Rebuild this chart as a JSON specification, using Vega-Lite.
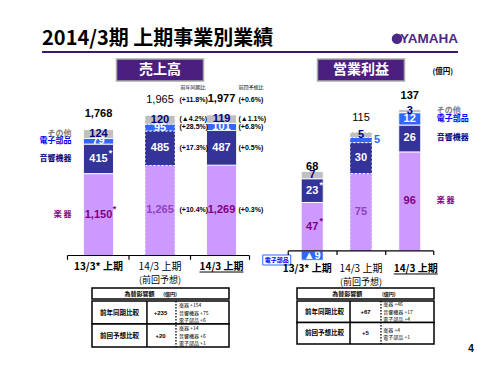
{
  "$schema": "https://vega.github.io/schema/vega-lite/v6.json",
  "padding": {"left": 37, "top": 28, "right": 0, "bottom": 0},
  "background": "white",
  "spacing": 5,
  "config": {"view": {"stroke": null}, "text": {"font": "Liberation Sans, Noto Sans CJK JP"}},
  "datasets": {
    "sales": [
      {"period": "13/3", "type": "actual", "seg": "楽器", "value": 1150, "note": true},
      {"period": "13/3", "type": "actual", "seg": "音響機器", "value": 415, "note": true},
      {"period": "13/3", "type": "actual", "seg": "電子部品", "value": 79},
      {"period": "13/3", "type": "actual", "seg": "その他", "value": 124},
      {"period": "14/3予想", "type": "forecast", "seg": "楽器", "value": 1265},
      {"period": "14/3予想", "type": "forecast", "seg": "音響機器", "value": 485},
      {"period": "14/3予想", "type": "forecast", "seg": "電子部品", "value": 95},
      {"period": "14/3予想", "type": "forecast", "seg": "その他", "value": 120},
      {"period": "14/3", "type": "actual", "seg": "楽器", "value": 1269, "yoy": "(+10.4%)", "plan": "(+0.3%)"},
      {"period": "14/3", "type": "actual", "seg": "音響機器", "value": 487, "yoy": "(+17.3%)", "plan": "(+0.5%)"},
      {"period": "14/3", "type": "actual", "seg": "電子部品", "value": 101, "yoy": "(+28.5%)", "plan": "(+6.8%)"},
      {"period": "14/3", "type": "actual", "seg": "その他", "value": 119, "yoy": "(▲4.2%)", "plan": "(▲1.1%)"}
    ],
    "salesTotals": [
      {"period": "13/3", "total": 1768, "line1": "13/3* 上期"},
      {"period": "14/3予想", "total": 1965, "line1": "14/3 上期", "line2": "(前回予想)"},
      {"period": "14/3", "total": 1977, "line1": "14/3 上期", "yoy": "(+11.8%)", "plan": "(+0.6%)", "yoyHead": "前年同期比", "planHead": "前回予想比"}
    ],
    "income": [
      {"period": "13/3", "type": "actual", "seg": "楽器", "value": 47, "note": true},
      {"period": "13/3", "type": "actual", "seg": "音響機器", "value": 23, "note": true},
      {"period": "13/3", "type": "actual", "seg": "電子部品", "value": -9},
      {"period": "13/3", "type": "actual", "seg": "その他", "value": 7},
      {"period": "14/3予想", "type": "forecast", "seg": "楽器", "value": 75},
      {"period": "14/3予想", "type": "forecast", "seg": "音響機器", "value": 30},
      {"period": "14/3予想", "type": "forecast", "seg": "電子部品", "value": 5},
      {"period": "14/3予想", "type": "forecast", "seg": "その他", "value": 5},
      {"period": "14/3", "type": "actual", "seg": "楽器", "value": 96},
      {"period": "14/3", "type": "actual", "seg": "音響機器", "value": 26},
      {"period": "14/3", "type": "actual", "seg": "電子部品", "value": 12},
      {"period": "14/3", "type": "actual", "seg": "その他", "value": 3}
    ],
    "incomeTotals": [
      {"period": "13/3", "total": 68, "line1": "13/3* 上期"},
      {"period": "14/3予想", "total": 115, "line1": "14/3 上期", "line2": "(前回予想)"},
      {"period": "14/3", "total": 137, "line1": "14/3 上期"}
    ],
    "fx": [
      {"table": "sales", "item": "前年同期比較", "total": "+235", "detail": "楽器 +154\n音響機器 +75\n電子部品 +6"},
      {"table": "sales", "item": "前回予想比較", "total": "+20", "detail": "楽器 +14\n音響機器 +6\n電子部品 +1"},
      {"table": "income", "item": "前年同期比較", "total": "+67", "detail": "楽器 +46\n音響機器 +17\n電子部品 +4"},
      {"table": "income", "item": "前回予想比較", "total": "+5", "detail": "楽器 +4\n電子部品 +1"}
    ]
  },
  "vconcat": [
    {
      "width": 421, "height": 24,
      "data": {"values": [{"title": "2014/3期 上期事業別業績", "brand": "YAMAHA"}]},
      "layer": [
        {"mark": {"type": "rule", "color": "#3B1877", "strokeWidth": 2},
         "encoding": {"x": {"datum": 0.012, "type": "quantitative", "scale": {"domain": [0, 1], "nice": false, "zero": false}, "axis": null}, "x2": {"datum": 1},
                      "y": {"datum": 0, "type": "quantitative", "scale": {"domain": [0, 1], "nice": false, "zero": false}, "axis": null}}},
        {"mark": {"type": "text", "align": "left", "baseline": "middle", "font": "Noto Sans CJK JP", "fontSize": 20, "fontWeight": "bold", "color": "black"},
         "encoding": {"x": {"datum": 0.012, "type": "quantitative"}, "y": {"datum": 0.55, "type": "quantitative"}, "text": {"field": "title"}}},
        {"mark": {"type": "point", "shape": "circle", "filled": true, "size": 110, "color": "#4B2A86", "opacity": 1, "xOffset": -61},
         "encoding": {"x": {"datum": 1, "type": "quantitative"}, "y": {"datum": 0.55, "type": "quantitative"}}},
        {"mark": {"type": "text", "align": "right", "baseline": "middle", "font": "Liberation Sans", "fontSize": 13.5, "fontWeight": "bold", "color": "#4B2A86"},
         "encoding": {"x": {"datum": 1, "type": "quantitative"}, "y": {"datum": 0.55, "type": "quantitative"}, "text": {"field": "brand"}}}
      ]
    },
    {
      "spacing": 0,
      "vconcat": [
        {
          "bounds": "flush",
          "spacing": 1,
          "hconcat": [
            {
              "width": 225, "height": 225,
              "layer": [
                {"data": {"values": [{"title": "売上高"}]},
                 "layer": [
                   {"mark": {"type": "bar", "width": 87, "fill": "#4A1F7F", "stroke": "#AAAAAA", "strokeWidth": 1.5},
                    "encoding": {"x": {"datum": "14/3予想", "type": "nominal", "scale": {"type": "point", "domain": ["13/3", "14/3予想", "14/3"], "padding": 0.829, "align": 0.603}, "axis": null},
                                 "y": {"datum": 2451, "type": "quantitative", "scale": {"domain": [-400, 2760], "nice": false, "zero": false}, "axis": null}, "y2": {"datum": 2760}}},
                   {"mark": {"type": "text", "color": "white", "fontSize": 14, "fontWeight": "bold", "font": "Noto Sans CJK JP", "baseline": "middle"},
                    "encoding": {"x": {"datum": "14/3予想", "type": "nominal"}, "y": {"datum": 2605, "type": "quantitative"}, "text": {"field": "title"}}}
                 ]},
                {"data": {"name": "sales"},
                 "transform": [
                   {"calculate": "indexof(['楽器','音響機器','電子部品','その他'], datum.seg)", "as": "rank"},
                   {"stack": "value", "groupby": ["period"], "sort": [{"field": "rank", "order": "ascending"}], "as": ["y0", "y1"]},
                   {"calculate": "(datum.y0 + datum.y1) / 2", "as": "mid"},
                   {"calculate": "datum.value < 0 ? '▲' + format(-datum.value, ',') : format(datum.value, ',')", "as": "label"},
                   {"calculate": "datum.seg === '楽器' ? '楽 器' : datum.seg", "as": "name"}
                 ],
                 "layer": [
                   {"mark": {"type": "bar", "width": 30, "stroke": "white", "strokeWidth": 1},
                    "encoding": {"x": {"field": "period", "type": "nominal", "axis": null},
                                 "y": {"field": "y1", "type": "quantitative", "axis": null}, "y2": {"field": "y0"},
                                 "color": {"field": "seg", "type": "nominal", "scale": {"domain": ["楽器", "音響機器", "電子部品", "その他"], "range": ["#CC99FF", "#333399", "#3366FF", "#C0C0C0"]}, "legend": null},
                                 "strokeDash": {"field": "type", "type": "nominal", "scale": {"domain": ["actual", "forecast"], "range": [[1, 0], [2, 2]]}, "legend": null}}},
                   {"mark": {"type": "text", "fontSize": 11, "fontWeight": "bold", "baseline": "middle", "font": "Liberation Sans"},
                    "encoding": {"x": {"field": "period", "type": "nominal"}, "y": {"field": "mid", "type": "quantitative"}, "text": {"field": "label"},
                                 "color": {"condition": [{"test": "datum.seg === '楽器' && datum.type === 'forecast'", "value": "#9040C0"}, {"test": "datum.seg === '楽器'", "value": "#800080"}, {"test": "datum.seg === 'その他'", "value": "#000080"}], "value": "white"}}},
                   {"transform": [{"filter": "datum.note && datum.seg === '楽器'"}],
                    "mark": {"type": "text", "fontSize": 9, "fontWeight": "bold", "dx": 16, "dy": -6, "color": "#800080"},
                    "encoding": {"x": {"field": "period", "type": "nominal"}, "y": {"field": "mid", "type": "quantitative"}, "text": {"value": "*"}}},
                   {"transform": [{"filter": "datum.note && datum.seg === '音響機器'"}],
                    "mark": {"type": "text", "fontSize": 9, "fontWeight": "bold", "dx": 12, "dy": -6, "color": "white"},
                    "encoding": {"x": {"field": "period", "type": "nominal"}, "y": {"field": "mid", "type": "quantitative"}, "text": {"value": "*"}}},
                   {"transform": [{"filter": "datum.period === '13/3'"}],
                    "mark": {"type": "text", "fontSize": 8, "fontWeight": "bold", "align": "right", "baseline": "middle", "dx": -27, "font": "Noto Sans CJK JP"},
                    "encoding": {"x": {"field": "period", "type": "nominal"}, "y": {"field": "mid", "type": "quantitative"}, "text": {"field": "name"},
                                 "color": {"condition": [{"test": "datum.seg === 'その他'", "value": "#808080"}, {"test": "datum.seg === '電子部品'", "value": "#0000FF"}, {"test": "datum.seg === '音響機器'", "value": "#000080"}], "value": "#800080"}}},
                   {"transform": [{"filter": "datum.period === '14/3'"}],
                    "mark": {"type": "text", "fontSize": 7, "fontWeight": "bold", "align": "left", "baseline": "middle", "dx": -42, "color": "black", "font": "Liberation Sans Narrow, Liberation Sans, Noto Sans CJK JP"},
                    "encoding": {"x": {"field": "period", "type": "nominal"}, "y": {"field": "mid", "type": "quantitative"}, "text": {"field": "yoy"}}},
                   {"transform": [{"filter": "datum.period === '14/3'"}],
                    "mark": {"type": "text", "fontSize": 7, "fontWeight": "bold", "align": "left", "baseline": "middle", "dx": 17, "color": "black", "font": "Liberation Sans Narrow, Liberation Sans, Noto Sans CJK JP"},
                    "encoding": {"x": {"field": "period", "type": "nominal"}, "y": {"field": "mid", "type": "quantitative"}, "text": {"field": "plan"}}}
                 ]},
                {"data": {"name": "salesTotals"},
                 "layer": [
                   {"transform": [{"filter": "datum.period !== '14/3予想'"}],
                    "mark": {"type": "text", "fontSize": 11, "fontWeight": "bold", "dy": -16, "color": "black"},
                    "encoding": {"x": {"field": "period", "type": "nominal"}, "y": {"field": "total", "type": "quantitative"}, "text": {"field": "total", "type": "quantitative", "format": ","}}},
                   {"transform": [{"filter": "datum.period === '14/3予想'"}],
                    "mark": {"type": "text", "fontSize": 11, "dy": -16, "color": "black"},
                    "encoding": {"x": {"field": "period", "type": "nominal"}, "y": {"field": "total", "type": "quantitative"}, "text": {"field": "total", "type": "quantitative", "format": ","}}},
                   {"transform": [{"filter": "datum.period === '14/3'"}],
                    "mark": {"type": "text", "fontSize": 7, "fontWeight": "bold", "align": "left", "dx": -42, "dy": -15, "color": "black", "font": "Liberation Sans Narrow, Liberation Sans, Noto Sans CJK JP"},
                    "encoding": {"x": {"field": "period", "type": "nominal"}, "y": {"field": "total", "type": "quantitative"}, "text": {"field": "yoy"}}},
                   {"transform": [{"filter": "datum.period === '14/3'"}],
                    "mark": {"type": "text", "fontSize": 7, "fontWeight": "bold", "align": "left", "dx": 17, "dy": -15, "color": "black", "font": "Liberation Sans Narrow, Liberation Sans, Noto Sans CJK JP"},
                    "encoding": {"x": {"field": "period", "type": "nominal"}, "y": {"field": "total", "type": "quantitative"}, "text": {"field": "plan"}}},
                   {"transform": [{"filter": "datum.period === '14/3'"}],
                    "mark": {"type": "text", "fontSize": 5, "align": "left", "dx": -41, "dy": -28, "color": "black", "font": "Noto Sans CJK JP"},
                    "encoding": {"x": {"field": "period", "type": "nominal"}, "y": {"field": "total", "type": "quantitative"}, "text": {"field": "yoyHead"}}},
                   {"transform": [{"filter": "datum.period === '14/3'"}],
                    "mark": {"type": "text", "fontSize": 5, "align": "left", "dx": 17, "dy": -28, "color": "black", "font": "Noto Sans CJK JP"},
                    "encoding": {"x": {"field": "period", "type": "nominal"}, "y": {"field": "total", "type": "quantitative"}, "text": {"field": "planHead"}}},
                   {"transform": [{"filter": "datum.period !== '14/3予想'"}],
                    "mark": {"type": "text", "fontSize": 10, "fontWeight": "bold", "dy": 11.5, "color": "black", "font": "Noto Sans CJK JP"},
                    "encoding": {"x": {"field": "period", "type": "nominal"}, "y": {"datum": 0, "type": "quantitative"}, "text": {"field": "line1"}}},
                   {"transform": [{"filter": "datum.period === '14/3予想'"}],
                    "mark": {"type": "text", "fontSize": 10, "dy": 11.5, "color": "black", "font": "Noto Sans CJK JP"},
                    "encoding": {"x": {"field": "period", "type": "nominal"}, "y": {"datum": 0, "type": "quantitative"}, "text": {"field": "line1"}}},
                   {"transform": [{"filter": "datum.period === '14/3予想'"}],
                    "mark": {"type": "text", "fontSize": 9, "dy": 24.5, "color": "black", "font": "Noto Sans CJK JP"},
                    "encoding": {"x": {"field": "period", "type": "nominal"}, "y": {"datum": 0, "type": "quantitative"}, "text": {"field": "line2"}}},
                   {"transform": [{"filter": "datum.period === '14/3'"}],
                    "mark": {"type": "rule", "color": "black", "strokeWidth": 1, "xOffset": -22, "x2Offset": 22, "yOffset": 16.5},
                    "encoding": {"x": {"field": "period", "type": "nominal"}, "x2": {"field": "period"}, "y": {"datum": 0, "type": "quantitative"}}},
                   {"transform": [{"filter": "datum.period === '14/3'"}],
                    "mark": {"type": "rule", "color": "black", "strokeWidth": 1.2, "xOffset": -31, "x2Offset": 28},
                    "encoding": {"x": {"datum": "13/3", "type": "nominal"}, "x2": {"datum": "14/3"}, "y": {"datum": 0, "type": "quantitative"}}},
                   {"mark": {"type": "rule", "color": "black", "strokeWidth": 1.2, "xOffset": -31},
                    "encoding": {"x": {"field": "period", "type": "nominal"}, "y": {"datum": 0, "type": "quantitative"}, "y2": {"datum": -60}}},
                   {"transform": [{"filter": "datum.period === '14/3'"}],
                    "mark": {"type": "rule", "color": "black", "strokeWidth": 1.2, "xOffset": 28},
                    "encoding": {"x": {"field": "period", "type": "nominal"}, "y": {"datum": 0, "type": "quantitative"}, "y2": {"datum": -60}}}
                 ]}
              ]
            },
            {
              "width": 195, "height": 225,
              "layer": [
                {"data": {"values": [{"title": "営業利益", "unit": "(億円)", "tag": "電子部品"}]},
                 "layer": [
                   {"mark": {"type": "bar", "width": 87, "fill": "#4A1F7F", "stroke": "#AAAAAA", "strokeWidth": 1.5},
                    "encoding": {"x": {"datum": "14/3予想", "type": "nominal", "scale": {"type": "point", "domain": ["13/3", "14/3予想", "14/3"], "padding": 1.097, "align": 0.505}, "axis": null},
                                 "y": {"datum": 164.7, "type": "quantitative", "scale": {"domain": [-32, 186], "nice": false, "zero": false}, "axis": null}, "y2": {"datum": 186}}},
                   {"mark": {"type": "text", "color": "white", "fontSize": 14, "fontWeight": "bold", "font": "Noto Sans CJK JP", "baseline": "middle"},
                    "encoding": {"x": {"datum": "14/3予想", "type": "nominal"}, "y": {"datum": 175.3, "type": "quantitative"}, "text": {"field": "title"}}},
                   {"mark": {"type": "text", "color": "black", "fontSize": 7.5, "fontWeight": "bold", "font": "Noto Sans CJK JP", "baseline": "middle", "dx": 33},
                    "encoding": {"x": {"datum": "14/3", "type": "nominal"}, "y": {"datum": 173.4, "type": "quantitative"}, "text": {"field": "unit"}}},
                   {"mark": {"type": "bar", "width": 28, "fill": "white", "stroke": "#3366FF", "strokeWidth": 1, "xOffset": -35.5},
                    "encoding": {"x": {"datum": "13/3", "type": "nominal"}, "y": {"datum": -3.9, "type": "quantitative"}, "y2": {"datum": -13.6}}},
                   {"mark": {"type": "text", "color": "#0000FF", "fontSize": 6, "fontWeight": "bold", "font": "Noto Sans CJK JP", "baseline": "middle", "dx": -35.5},
                    "encoding": {"x": {"datum": "13/3", "type": "nominal"}, "y": {"datum": -8.8, "type": "quantitative"}, "text": {"field": "tag"}}}
                 ]},
                {"data": {"name": "income"},
                 "transform": [
                   {"calculate": "indexof(['楽器','音響機器','電子部品','その他'], datum.seg)", "as": "rank"},
                   {"stack": "value", "groupby": ["period"], "sort": [{"field": "rank", "order": "ascending"}], "as": ["y0", "y1"]},
                   {"calculate": "(datum.y0 + datum.y1) / 2", "as": "mid"},
                   {"calculate": "datum.value < 0 ? '▲' + format(-datum.value, ',') : format(datum.value, ',')", "as": "label"},
                   {"calculate": "datum.seg === '楽器' ? '楽 器' : datum.seg", "as": "name"}
                 ],
                 "layer": [
                   {"mark": {"type": "bar", "width": 22, "stroke": "white", "strokeWidth": 1},
                    "encoding": {"x": {"field": "period", "type": "nominal", "axis": null},
                                 "y": {"field": "y1", "type": "quantitative", "axis": null}, "y2": {"field": "y0"},
                                 "color": {"field": "seg", "type": "nominal", "scale": {"domain": ["楽器", "音響機器", "電子部品", "その他"], "range": ["#CC99FF", "#333399", "#3366FF", "#C0C0C0"]}, "legend": null},
                                 "strokeDash": {"field": "type", "type": "nominal", "scale": {"domain": ["actual", "forecast"], "range": [[1, 0], [2, 2]]}, "legend": null}}},
                   {"transform": [{"filter": "!(datum.type === 'forecast' && datum.seg === '電子部品')"}],
                    "mark": {"type": "text", "fontSize": 11, "fontWeight": "bold", "baseline": "middle", "font": "Liberation Sans, Noto Sans CJK JP"},
                    "encoding": {"x": {"field": "period", "type": "nominal"}, "y": {"field": "mid", "type": "quantitative"}, "text": {"field": "label"},
                                 "color": {"condition": [{"test": "datum.seg === '楽器' && datum.type === 'forecast'", "value": "#9040C0"}, {"test": "datum.seg === '楽器'", "value": "#800080"}, {"test": "datum.seg === 'その他'", "value": "#000080"}], "value": "white"}}},
                   {"transform": [{"filter": "datum.type === 'forecast' && datum.seg === '電子部品'"}],
                    "mark": {"type": "text", "fontSize": 11, "fontWeight": "bold", "baseline": "middle", "dx": 16, "color": "#3366FF"},
                    "encoding": {"x": {"field": "period", "type": "nominal"}, "y": {"field": "mid", "type": "quantitative"}, "text": {"field": "label"}}},
                   {"transform": [{"filter": "datum.note"}],
                    "mark": {"type": "text", "fontSize": 9, "fontWeight": "bold", "dx": 9, "dy": -6},
                    "encoding": {"x": {"field": "period", "type": "nominal"}, "y": {"field": "mid", "type": "quantitative"}, "text": {"value": "*"},
                                 "color": {"condition": {"test": "datum.seg === '楽器'", "value": "#800080"}, "value": "white"}}},
                   {"transform": [{"filter": "datum.period === '14/3'"}],
                    "mark": {"type": "text", "fontSize": 8, "fontWeight": "bold", "align": "left", "baseline": "middle", "dx": 27, "font": "Noto Sans CJK JP"},
                    "encoding": {"x": {"field": "period", "type": "nominal"}, "y": {"field": "mid", "type": "quantitative"}, "text": {"field": "name"},
                                 "color": {"condition": [{"test": "datum.seg === 'その他'", "value": "#808080"}, {"test": "datum.seg === '電子部品'", "value": "#0000FF"}, {"test": "datum.seg === '音響機器'", "value": "#000080"}], "value": "#800080"}}}
                 ]},
                {"data": {"name": "incomeTotals"},
                 "layer": [
                   {"transform": [{"filter": "datum.period !== '14/3予想'"}],
                    "mark": {"type": "text", "fontSize": 11, "fontWeight": "bold", "dy": -14, "color": "black"},
                    "encoding": {"x": {"field": "period", "type": "nominal"}, "y": {"field": "total", "type": "quantitative"}, "text": {"field": "total", "type": "quantitative", "format": ","}}},
                   {"transform": [{"filter": "datum.period === '14/3予想'"}],
                    "mark": {"type": "text", "fontSize": 11, "dy": -14, "color": "black"},
                    "encoding": {"x": {"field": "period", "type": "nominal"}, "y": {"field": "total", "type": "quantitative"}, "text": {"field": "total", "type": "quantitative", "format": ","}}},
                   {"transform": [{"filter": "datum.period === '13/3'"}],
                    "mark": {"type": "text", "fontSize": 10, "fontWeight": "bold", "dy": 18, "dx": -5, "color": "black", "font": "Noto Sans CJK JP"},
                    "encoding": {"x": {"field": "period", "type": "nominal"}, "y": {"datum": 0, "type": "quantitative"}, "text": {"field": "line1"}}},
                   {"transform": [{"filter": "datum.period === '14/3'"}],
                    "mark": {"type": "text", "fontSize": 10, "fontWeight": "bold", "dy": 18, "dx": 6, "color": "black", "font": "Noto Sans CJK JP"},
                    "encoding": {"x": {"field": "period", "type": "nominal"}, "y": {"datum": 0, "type": "quantitative"}, "text": {"field": "line1"}}},
                   {"transform": [{"filter": "datum.period === '14/3予想'"}],
                    "mark": {"type": "text", "fontSize": 10, "dy": 18, "color": "black", "font": "Noto Sans CJK JP"},
                    "encoding": {"x": {"field": "period", "type": "nominal"}, "y": {"datum": 0, "type": "quantitative"}, "text": {"field": "line1"}}},
                   {"transform": [{"filter": "datum.period === '14/3予想'"}],
                    "mark": {"type": "text", "fontSize": 9, "dy": 31, "color": "black", "font": "Noto Sans CJK JP"},
                    "encoding": {"x": {"field": "period", "type": "nominal"}, "y": {"datum": 0, "type": "quantitative"}, "text": {"field": "line2"}}},
                   {"transform": [{"filter": "datum.period === '14/3'"}],
                    "mark": {"type": "rule", "color": "black", "strokeWidth": 1, "xOffset": -16, "x2Offset": 28, "yOffset": 23},
                    "encoding": {"x": {"field": "period", "type": "nominal"}, "x2": {"field": "period"}, "y": {"datum": 0, "type": "quantitative"}}},
                   {"transform": [{"filter": "datum.period === '14/3'"}],
                    "mark": {"type": "rule", "color": "black", "strokeWidth": 1.2, "xOffset": -24, "x2Offset": 24},
                    "encoding": {"x": {"datum": "13/3", "type": "nominal"}, "x2": {"datum": "14/3"}, "y": {"datum": 0, "type": "quantitative"}}},
                   {"mark": {"type": "rule", "color": "black", "strokeWidth": 1.2, "xOffset": -24},
                    "encoding": {"x": {"field": "period", "type": "nominal"}, "y": {"datum": 0, "type": "quantitative"}, "y2": {"datum": -4}}},
                   {"transform": [{"filter": "datum.period === '14/3'"}],
                    "mark": {"type": "rule", "color": "black", "strokeWidth": 1.2, "xOffset": 24},
                    "encoding": {"x": {"field": "period", "type": "nominal"}, "y": {"datum": 0, "type": "quantitative"}, "y2": {"datum": -4}}}
                 ]}
              ]
            }
          ]
        },
        {
          "hconcat": [
            {"width": 225, "height": 11,
             "data": {"values": [{"title": "為替影響額", "unit": "(億円)"}]},
             "layer": [
               {"mark": {"type": "rect", "fill": "white", "stroke": "black", "strokeWidth": 1.5},
                "encoding": {"x": {"datum": 0, "type": "quantitative", "scale": {"domain": [-0.4015, 1.2409], "nice": false, "zero": false}, "axis": null}, "x2": {"datum": 1},
                             "y": {"datum": 0, "type": "quantitative", "scale": {"domain": [0, 1], "nice": false, "zero": false}, "axis": null}, "y2": {"datum": 1}}},
               {"mark": {"type": "text", "font": "Noto Sans CJK JP", "fontSize": 6, "fontWeight": "bold", "baseline": "middle", "color": "black"},
                "encoding": {"x": {"datum": 0.347, "type": "quantitative"}, "y": {"datum": 0.5, "type": "quantitative"}, "text": {"field": "title"}}},
               {"mark": {"type": "text", "font": "Noto Sans CJK JP", "fontSize": 5, "fontWeight": "bold", "baseline": "middle", "color": "black"},
                "encoding": {"x": {"datum": 0.57, "type": "quantitative"}, "y": {"datum": 0.5, "type": "quantitative"}, "text": {"field": "unit"}}}
             ]},
            {"width": 195, "height": 11,
             "data": {"values": [{"title": "為替影響額", "unit": "(億円)"}]},
             "layer": [
               {"mark": {"type": "rect", "fill": "white", "stroke": "black", "strokeWidth": 1.5},
                "encoding": {"x": {"datum": 0, "type": "quantitative", "scale": {"domain": [-0.2482, 1.1752], "nice": false, "zero": false}, "axis": null}, "x2": {"datum": 1},
                             "y": {"datum": 0, "type": "quantitative", "scale": {"domain": [0, 1], "nice": false, "zero": false}, "axis": null}, "y2": {"datum": 1}}},
               {"mark": {"type": "text", "font": "Noto Sans CJK JP", "fontSize": 6, "fontWeight": "bold", "baseline": "middle", "color": "black"},
                "encoding": {"x": {"datum": 0.366, "type": "quantitative"}, "y": {"datum": 0.5, "type": "quantitative"}, "text": {"field": "title"}}},
               {"mark": {"type": "text", "font": "Noto Sans CJK JP", "fontSize": 5, "fontWeight": "bold", "baseline": "middle", "color": "black"},
                "encoding": {"x": {"datum": 0.67, "type": "quantitative"}, "y": {"datum": 0.5, "type": "quantitative"}, "text": {"field": "unit"}}}
             ]}
          ],
          "spacing": 1
        },
        {
          "hconcat": [
            {"width": 225, "height": 46,
             "data": {"name": "fx"},
             "transform": [{"filter": "datum.table === 'sales'"}],
             "layer": [
               {"mark": {"type": "rect", "fill": "white", "stroke": "black", "strokeWidth": 1.5},
                "encoding": {"x": {"datum": 0, "type": "quantitative", "scale": {"domain": [-0.4015, 1.2409], "nice": false, "zero": false}, "axis": null}, "x2": {"datum": 1},
                             "y": {"field": "item", "type": "nominal", "scale": {"domain": ["前年同期比較", "前回予想比較"], "paddingInner": 0, "paddingOuter": 0}, "axis": null}}},
               {"mark": {"type": "rule", "color": "black", "strokeWidth": 1},
                "encoding": {"x": {"datum": 0.401, "type": "quantitative"}}},
               {"mark": {"type": "rule", "color": "black", "strokeWidth": 0.8, "strokeDash": [1.5, 1.5]},
                "encoding": {"x": {"datum": 0.613, "type": "quantitative"}}},
               {"mark": {"type": "text", "font": "Noto Sans CJK JP", "fontSize": 6.5, "fontWeight": "bold", "baseline": "middle", "color": "black"},
                "encoding": {"x": {"datum": 0.2, "type": "quantitative"}, "y": {"field": "item", "type": "nominal"}, "text": {"field": "item"}}},
               {"mark": {"type": "text", "font": "Liberation Sans", "fontSize": 6, "fontWeight": "bold", "baseline": "middle", "color": "black"},
                "encoding": {"x": {"datum": 0.5, "type": "quantitative"}, "y": {"field": "item", "type": "nominal"}, "text": {"field": "total"}}},
               {"mark": {"type": "text", "font": "Noto Sans CJK JP", "fontSize": 5, "align": "left", "baseline": "middle", "lineBreak": "\n", "lineHeight": 7.5, "dy": -7.5, "color": "black"},
                "encoding": {"x": {"datum": 0.635, "type": "quantitative"}, "y": {"field": "item", "type": "nominal"}, "text": {"field": "detail"}}}
             ]},
            {"width": 195, "height": 43,
             "layer": [
               {"data": {"name": "fx"},
                "transform": [{"filter": "datum.table === 'income'"}],
                "layer": [
                  {"mark": {"type": "rect", "fill": "white", "stroke": "black", "strokeWidth": 1.5},
                   "encoding": {"x": {"datum": 0, "type": "quantitative", "scale": {"domain": [-0.2482, 1.1752], "nice": false, "zero": false}, "axis": null}, "x2": {"datum": 1},
                                "y": {"field": "item", "type": "nominal", "scale": {"domain": ["前年同期比較", "前回予想比較"], "paddingInner": 0, "paddingOuter": 0}, "axis": null}}},
                  {"mark": {"type": "rule", "color": "black", "strokeWidth": 1},
                   "encoding": {"x": {"datum": 0.387, "type": "quantitative"}}},
                  {"mark": {"type": "rule", "color": "black", "strokeWidth": 0.8, "strokeDash": [1.5, 1.5]},
                   "encoding": {"x": {"datum": 0.613, "type": "quantitative"}}},
                  {"mark": {"type": "text", "font": "Noto Sans CJK JP", "fontSize": 6.5, "fontWeight": "bold", "baseline": "middle", "color": "black"},
                   "encoding": {"x": {"datum": 0.2, "type": "quantitative"}, "y": {"field": "item", "type": "nominal"}, "text": {"field": "item"}}},
                  {"mark": {"type": "text", "font": "Liberation Sans", "fontSize": 6, "fontWeight": "bold", "baseline": "middle", "color": "black"},
                   "encoding": {"x": {"datum": 0.5, "type": "quantitative"}, "y": {"field": "item", "type": "nominal"}, "text": {"field": "total"}}},
                  {"transform": [{"filter": "datum.item === '前年同期比較'"}],
                   "mark": {"type": "text", "font": "Noto Sans CJK JP", "fontSize": 5, "align": "left", "baseline": "middle", "lineBreak": "\n", "lineHeight": 7.5, "dy": -7.5, "color": "black"},
                   "encoding": {"x": {"datum": 0.63, "type": "quantitative"}, "y": {"field": "item", "type": "nominal"}, "text": {"field": "detail"}}},
                  {"transform": [{"filter": "datum.item === '前回予想比較'"}],
                   "mark": {"type": "text", "font": "Noto Sans CJK JP", "fontSize": 5, "align": "left", "baseline": "middle", "lineBreak": "\n", "lineHeight": 7.5, "dy": -3.75, "color": "black"},
                   "encoding": {"x": {"datum": 0.63, "type": "quantitative"}, "y": {"field": "item", "type": "nominal"}, "text": {"field": "detail"}}}
                ]},
               {"data": {"values": [{"page": "4"}]},
                "mark": {"type": "text", "font": "Liberation Sans", "fontSize": 10, "fontWeight": "bold", "baseline": "middle", "dy": 16, "color": "black"},
                "encoding": {"x": {"datum": 1.27, "type": "quantitative"}, "y": {"datum": "前回予想比較", "type": "nominal"}, "text": {"field": "page"}}}
             ]}
          ],
          "spacing": 1
        }
      ]
    }
  ]
}
